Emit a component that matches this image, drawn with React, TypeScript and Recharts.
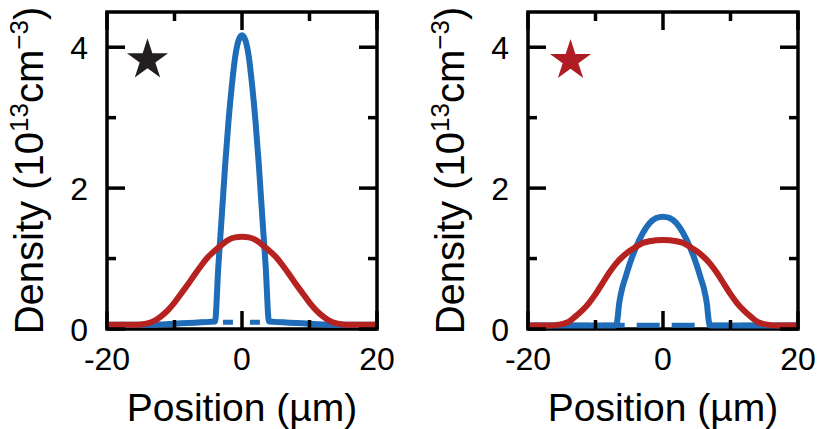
import React from 'react';
import { ComposedChart, Line, XAxis, YAxis, ReferenceArea, ReferenceDot, Label } from 'recharts';

// positions in µm, densities in 10^13 cm^-3
const redPos = [-20, -19, -18, -17, -16, -15, -14, -13, -12, -11, -10, -9, -8, -7, -6, -5, -4, -3, -2, -1, 0,
  1, 2, 3, 4, 5, 6, 7, 8, 9, 10, 11, 12, 13, 14, 15, 16, 17, 18, 19, 20];
const leftRed = [0.06, 0.06, 0.06, 0.06, 0.06, 0.065, 0.08, 0.115, 0.18, 0.265, 0.375, 0.505, 0.635, 0.775, 0.905, 1.025, 1.115, 1.195, 1.265, 1.3, 1.31,
  1.3, 1.265, 1.195, 1.115, 1.025, 0.905, 0.775, 0.635, 0.505, 0.375, 0.265, 0.18, 0.115, 0.08, 0.065, 0.06, 0.06, 0.06, 0.06, 0.06];
const rightRed = [0.05, 0.05, 0.05, 0.05, 0.055, 0.07, 0.1, 0.175, 0.26, 0.365, 0.495, 0.645, 0.795, 0.925, 1.025, 1.105, 1.165, 1.22, 1.245, 1.26, 1.265,
  1.26, 1.245, 1.22, 1.165, 1.105, 1.025, 0.925, 0.795, 0.645, 0.495, 0.365, 0.26, 0.175, 0.1, 0.07, 0.055, 0.05, 0.05, 0.05, 0.05];

const leftBluePos = [-20, -13, -12, -10, -8, -6, -4, -3.5, -3, -2.5, -2, -1.5, -1, -0.5, 0,
  0.5, 1, 1.5, 2, 2.5, 3, 3.5, 4, 6, 8, 10, 12, 13, 20];
const leftBlue = [0.06, 0.06, 0.065, 0.075, 0.085, 0.095, 0.105, 0.9, 1.6, 2.32, 2.95, 3.46, 3.87, 4.1, 4.17,
  4.1, 3.87, 3.46, 2.95, 2.32, 1.6, 0.9, 0.105, 0.095, 0.085, 0.075, 0.065, 0.06, 0.06];
const leftBlueDashPos = [-20, -13, -12, -10, -8, -6, -4, -3, -2, -1, 0, 1, 2, 3, 4, 6, 8, 10, 12, 13, 20];
const leftBlueDash = [0.06, 0.06, 0.065, 0.075, 0.085, 0.095, 0.1, 0.095, 0.095, 0.095, 0.095, 0.095, 0.095, 0.095, 0.1, 0.095, 0.085, 0.075, 0.065, 0.06, 0.06];

const rightBluePos = [-20, -7, -6.8, -6.5, -6, -5.5, -5, -4, -3, -2, -1, 0,
  1, 2, 3, 4, 5, 5.5, 6, 6.5, 6.8, 7, 20];
const rightBlue = [0.05, 0.05, 0.1, 0.36, 0.595, 0.75, 0.905, 1.16, 1.36, 1.5, 1.575, 1.595,
  1.575, 1.5, 1.36, 1.16, 0.905, 0.75, 0.595, 0.36, 0.1, 0.05, 0.05];
const rightBlueDashPos = [-20, -10, 0, 10, 20];
const rightBlueDash = [0.055, 0.055, 0.055, 0.055, 0.055];

const xTicks = [-20, -10, 0, 10, 20];
const xLabels = [-20, 0, 20];
const yTicks = [0, 1, 2, 3, 4];
const yLabels = [0, 2, 4];

const starLeft = { x: -14.0, y: 3.82 };
const starRight = { x: -13.7, y: 3.81 };

const BLUE = '#1f6db8';
const RED = '#b5221f';
const FONT = '"Liberation Sans", Arial, Helvetica, sans-serif';

const toPoints = (xs: number[], ys: number[]) => xs.map((x, i) => ({ x, y: ys[i] }));

const BottomTick = (props: any) => {
  const { x, y, payload } = props;
  const major = xLabels.includes(payload.value);
  return (
    <g>
      <line x1={x} y1={y} x2={x} y2={y - (major ? 18 : 9)} stroke="#000" strokeWidth={3.5} />
      {major && (
        <text x={x} y={y + 41} textAnchor="middle" fontSize={32} fontFamily={FONT} fill="#000">
          {payload.value}
        </text>
      )}
    </g>
  );
};

const TopTick = (props: any) => {
  const { x, y, payload } = props;
  const major = xLabels.includes(payload.value);
  return <line x1={x} y1={y} x2={x} y2={y + (major ? 18 : 9)} stroke="#000" strokeWidth={3.5} />;
};

const LeftTick = (props: any) => {
  const { x, y, payload } = props;
  const major = yLabels.includes(payload.value);
  return (
    <g>
      <line x1={x} y1={y} x2={x + (major ? 18 : 9)} y2={y} stroke="#000" strokeWidth={3.5} />
      {major && (
        <text x={x - 19} y={y + 12} textAnchor="end" fontSize={32} fontFamily={FONT} fill="#000">
          {payload.value}
        </text>
      )}
    </g>
  );
};

const RightTick = (props: any) => {
  const { x, y, payload } = props;
  const major = yLabels.includes(payload.value);
  return <line x1={x} y1={y} x2={x - (major ? 18 : 9)} y2={y} stroke="#000" strokeWidth={3.5} />;
};

const XTitle = (props: any) => {
  const vb = props.viewBox || { x: 107, y: 329, width: 270, height: 100 };
  return (
    <text x={vb.x + vb.width / 2} y={vb.y + 92} textAnchor="middle" fontSize={39} fontFamily={FONT} fill="#000">
      Position (µm)
    </text>
  );
};

const YTitle = (props: any) => {
  const vb = props.viewBox || { x: 0, y: 12, width: 107, height: 317 };
  const cx = vb.x + 43;
  const cy = vb.y + vb.height / 2;
  return (
    <text transform={`rotate(-90, ${cx}, ${cy})`} x={cx} y={cy} textAnchor="middle" fontSize={40} fontFamily={FONT} fill="#000">
      Density (10<tspan fontSize={26} dy={-15}>13</tspan>
      <tspan dy={15}>cm</tspan>
      <tspan fontSize={26} dy={-15}>−3</tspan>
      <tspan dy={15}>)</tspan>
    </text>
  );
};

const starPath = (cx: number, cy: number, R: number) => {
  const r = R * 0.382;
  const pts: string[] = [];
  for (let i = 0; i < 10; i++) {
    const a = -Math.PI / 2 + (i * Math.PI) / 5;
    const rad = i % 2 === 0 ? R : r;
    pts.push(`${cx + rad * Math.cos(a)},${cy + rad * Math.sin(a)}`);
  }
  return `M${pts.join('L')}Z`;
};

interface PanelProps {
  width: number;
  rightWidth: number;
  red: number[];
  bluePos: number[];
  blue: number[];
  dashPos: number[];
  dash: number[];
  dashArray: string;
  dashOffset: number;
  star: { x: number; y: number };
  starColor: string;
}

const Panel: React.FC<PanelProps> = (p) => (
  <ComposedChart width={p.width} height={429} margin={{ top: 0, right: 0, bottom: 0, left: 0 }}>
    <XAxis xAxisId="b" type="number" dataKey="x" domain={[-20, 20]} ticks={xTicks} interval={0}
      tickSize={0} tickMargin={0} tickLine={false} axisLine={false} tick={BottomTick} height={100}>
      <Label content={XTitle} />
    </XAxis>
    <XAxis xAxisId="t" orientation="top" type="number" dataKey="x" domain={[-20, 20]} ticks={xTicks} interval={0}
      tickSize={0} tickMargin={0} tickLine={false} axisLine={false} tick={TopTick} height={12} allowDataOverflow />
    <YAxis yAxisId="l" type="number" domain={[0, 4.5]} ticks={yTicks} interval={0}
      tickSize={0} tickMargin={0} tickLine={false} axisLine={false} tick={LeftTick} width={107}>
      <Label content={YTitle} />
    </YAxis>
    <YAxis yAxisId="r" orientation="right" type="number" domain={[0, 4.5]} ticks={yTicks} interval={0}
      tickSize={0} tickMargin={0} tickLine={false} axisLine={false} tick={RightTick} width={p.rightWidth} allowDataOverflow />
    <ReferenceArea xAxisId="b" yAxisId="l" x1={-20} x2={20} y1={0} y2={4.5} fill="none" fillOpacity={0}
      stroke="#000" strokeWidth={3.5} ifOverflow="visible" />
    <Line xAxisId="b" yAxisId="l" data={toPoints(p.dashPos, p.dash)} dataKey="y" type="monotone" stroke={BLUE}
      strokeWidth={5} strokeDasharray={p.dashArray} strokeDashoffset={p.dashOffset} dot={false} activeDot={false} isAnimationActive={false} />
    <Line xAxisId="b" yAxisId="l" data={toPoints(p.bluePos, p.blue)} dataKey="y" type="monotone" stroke={BLUE}
      strokeWidth={6} dot={false} activeDot={false} isAnimationActive={false} />
    <Line xAxisId="b" yAxisId="l" data={toPoints(redPos, p.red)} dataKey="y" type="monotone" stroke={RED}
      strokeWidth={6} dot={false} activeDot={false} isAnimationActive={false} />
    <ReferenceDot xAxisId="b" yAxisId="l" x={p.star.x} y={p.star.y} r={0}
      shape={(s: any) => <path d={starPath(s.cx, s.cy, 21.6)} fill={p.starColor} />} />
  </ComposedChart>
);

export default function App() {
  return (
    <div style={{ position: 'absolute', left: 0, top: 0, width: 819, height: 429, background: '#fff', overflow: 'hidden' }}>
      <div style={{ position: 'absolute', left: 0, top: 0 }}>
        <Panel width={410} rightWidth={33} red={leftRed} bluePos={leftBluePos} blue={leftBlue}
          dashPos={leftBlueDashPos} dash={leftBlueDash} dashArray="10 17" dashOffset={19}
          star={starLeft} starColor="#231f20" />
      </div>
      <div style={{ position: 'absolute', left: 421, top: 0 }}>
        <Panel width={398} rightWidth={21} red={rightRed} bluePos={rightBluePos} blue={rightBlue}
          dashPos={rightBlueDashPos} dash={rightBlueDash} dashArray="23 12" dashOffset={31.3}
          star={starRight} starColor="#b01c23" />
      </div>
    </div>
  );
}
